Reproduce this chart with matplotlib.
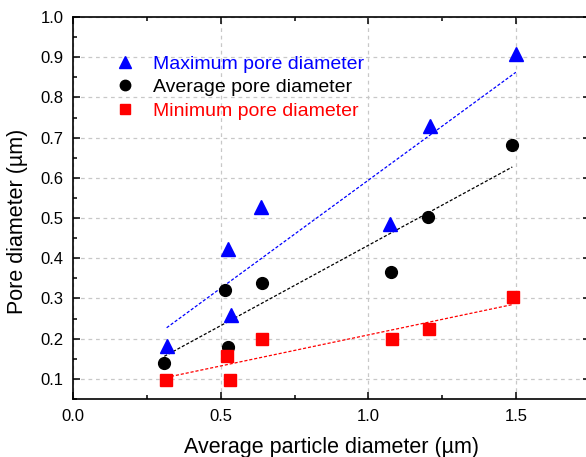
import numpy as np
import matplotlib
matplotlib.use('Agg')
import matplotlib.pyplot as plt
from matplotlib.lines import Line2D
from matplotlib.ticker import MultipleLocator

plt.rcParams['font.family'] = ['Liberation Sans', 'DejaVu Sans']

# particle size (um) vs pore sizes (um)
x_max = [0.317, 0.524, 0.535, 0.637, 1.073, 1.209, 1.499]
y_max = [0.182, 0.422, 0.260, 0.527, 0.485, 0.729, 0.907]

x_avg = [0.309, 0.515, 0.524, 0.639, 1.076, 1.203, 1.487]
y_avg = [0.139, 0.322, 0.179, 0.339, 0.365, 0.502, 0.682]

x_min = [0.315, 0.521, 0.533, 0.640, 1.079, 1.205, 1.488]
y_min = [0.097, 0.157, 0.097, 0.200, 0.200, 0.224, 0.303]

labels = ['Maximum pore diameter', 'Average pore diameter', 'Minimum pore diameter']
colors = ['#0000ff', 'black', '#ff0000']
markers = ['^', 'o', 's']
msizes = [9.5, 8.5, 8]

fig = plt.figure(figsize=(5.86, 4.57), dpi=100)
ax = fig.add_axes([0.1246, 0.1269, 0.8822, 0.8359])

series = [(x_max, y_max), (x_avg, y_avg), (x_min, y_min)]
handles = []
for (xs, ys), lab, c, m, ms in zip(series, labels, colors, markers, msizes):
    xs = np.array(xs)
    ys = np.array(ys)
    # linear fit over the data range
    k, b = np.polyfit(xs, ys, 1)
    xf = np.array([xs.min(), xs.max()])
    ax.plot(xf, k * xf + b, color=c, lw=0.9, ls=(0, (2.5, 1.5)), zorder=2)
    ax.plot(xs, ys, ls='none', marker=m, ms=ms, color=c, mec=c, zorder=3)
    handles.append(Line2D([], [], ls='none', marker=m, ms=ms - 1, color=c))

ax.set_xlim(0, 1.75)
ax.set_ylim(0.05, 1.0)
ax.xaxis.set_major_locator(MultipleLocator(0.5))
ax.xaxis.set_minor_locator(MultipleLocator(0.25))
ax.yaxis.set_major_locator(MultipleLocator(0.1))
ax.yaxis.set_minor_locator(MultipleLocator(0.05))
ax.set_xticks([0.0, 0.5, 1.0, 1.5])
ax.set_yticks(np.arange(0.1, 1.01, 0.1))

ax.grid(True, which='major', color='#c8c8c8', ls=(0, (3, 3)), lw=0.9, zorder=0)
ax.tick_params(which='both', direction='in', top=True, right=True, labelsize=12, width=1.1)
ax.tick_params(which='major', length=5, pad=7)
ax.tick_params(which='minor', length=3)
for sp in ax.spines.values():
    sp.set_linewidth(1.2)

ax.set_xlabel('Average particle diameter (\u00b5m)', fontsize=15.5)
ax.xaxis.set_label_coords(0.5, -0.1)
ax.set_ylabel('Pore diameter (\u00b5m)', fontsize=15.5)
ax.yaxis.set_label_coords(-0.087, 0.465)

ax.legend(handles, labels, loc='upper left', bbox_to_anchor=(0.081, 0.9),
          frameon=False, fontsize=14, labelcolor=colors, handlelength=1.0,
          handletextpad=0.95, labelspacing=0.3, borderpad=0, borderaxespad=0)

fig.savefig('out.png', dpi=100)
